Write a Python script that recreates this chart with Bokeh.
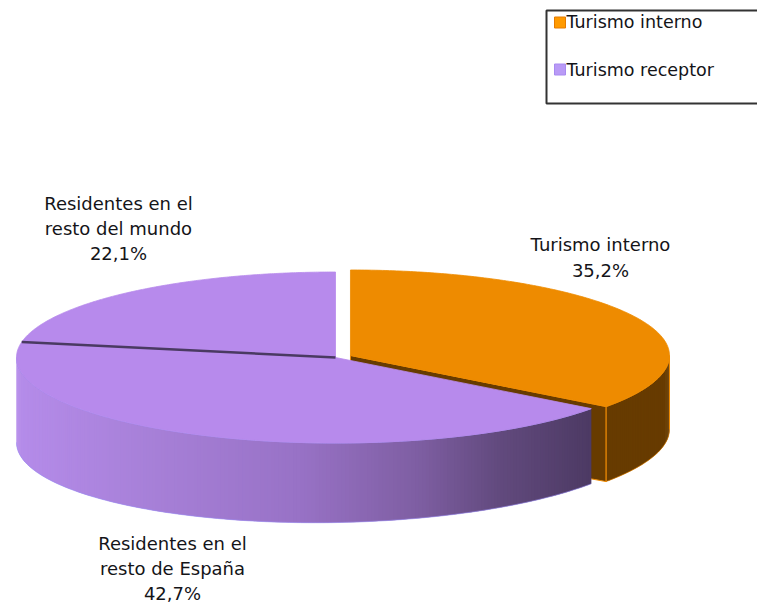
import numpy as np
from bokeh.plotting import figure
from bokeh.models import Range1d, ColumnDataSource
from bokeh.core.properties import value
from bokeh.embed import file_html
from bokeh.resources import INLINE

# ---------------- data ----------------
categories = ["Turismo interno", "Residentes en el\nresto de España", "Residentes en el\nresto del mundo"]
shares = [35.2, 42.7, 22.1]
legend_labels = ["Turismo interno", "Turismo receptor"]

# ---------------- style / layout ----------------
top_colors = ["#EE8B00", "#B78AEC", "#B78AEC"]
side_stops = [
    [(0, "#673B00"), (1000, "#673B00")],
    [(15, "#B58CEA"), (150, "#A780D8"), (300, "#9872C6"), (420, "#7E5EA2"), (500, "#624A7E"), (590, "#4D3A64")],
    [(0, "#B58CEA"), (1000, "#B58CEA")],
]
edge_colors = ["#F08A00", "#9C90F4", "#9C90F4"]
explode = [0.0525, 0.0, 0.0]
legend_colors = ["#FF9A00", "#B99AF6"]
legend_borders = ["#E57A00", "#A88AF0"]
label_pos = [(600, 257), (172, 568), (118, 228)]

CX, CY, A, B = 335.0, 357.0, 319.0, 85.5
FONT = value("DejaVu Sans")


def depth_at(x):
    return 85.0 - 10.0 * (x - 15.0) / 590.0


def hex2rgb(h):
    h = h.lstrip("#")
    return np.array([int(h[i:i + 2], 16) for i in (0, 2, 4)], dtype=float)


def grad(stops, x):
    xs = [s[0] for s in stops]
    cols = np.array([hex2rgb(s[1]) for s in stops])
    r = np.interp(x, xs, cols[:, 0]); g = np.interp(x, xs, cols[:, 1]); b_ = np.interp(x, xs, cols[:, 2])
    return "#%02x%02x%02x" % (int(round(r)), int(round(g)), int(round(b_)))


W, H = 757, 604
p = figure(width=W, height=H, x_range=Range1d(0, W), y_range=Range1d(H, 0),
           output_backend="svg", toolbar_location=None, min_border=0)
p.axis.visible = False
p.grid.visible = False
p.outline_line_color = None
p.background_fill_color = "white"
p.border_fill_color = "white"

# slice angles (degrees, clockwise from 12 o'clock)
tot = sum(shares)
starts, ends = [], []
t0 = 90.0
for v in shares:
    starts.append(t0)
    t0 = t0 - 360.0 * v / tot
    ends.append(t0)

offsets = []
for i in range(len(shares)):
    mid = np.radians((starts[i] + ends[i]) / 2)
    offsets.append((explode[i] * A * np.cos(mid), -explode[i] * B * np.sin(mid)))


def top_pt(i, t_deg):
    t = np.radians(t_deg)
    ox, oy = offsets[i]
    return CX + ox + A * np.cos(t), CY + oy - B * np.sin(t)


# 1) visible cut faces of exploded slices
for i in range(len(shares)):
    if explode[i] <= 0:
        continue
    ox, oy = offsets[i]
    c = (CX + ox, CY + oy)
    for t_face, normal in ((ends[i], ends[i] - 90), (starts[i], starts[i] + 90)):
        if np.sin(np.radians(normal)) < 0:
            r = top_pt(i, t_face)
            xs = [c[0], r[0], r[0], c[0]]
            ys = [c[1], r[1], r[1] + depth_at(r[0]), c[1] + depth_at(c[0])]
            p.patch(xs, ys, fill_color=side_stops[i][0][1], line_color=edge_colors[i], line_width=1)

# 2) visible outer sides (front half)
for i in range(len(shares)):
    lo, hi = ends[i], starts[i]
    segs = []
    for k in (-1, 0, 1):
        a0 = max(lo, -180 + 360 * k); a1 = min(hi, 0 + 360 * k)
        if a1 > a0:
            segs.append((a0, a1))
    for a0, a1 in segs:
        n = max(2, int((a1 - a0) * 1.5))
        ts = np.linspace(a0, a1, n + 1)
        pts = [top_pt(i, t) for t in ts]
        sx, sy, sc = [], [], []
        for j in range(n):
            (x1, y1) = pts[j]
            (x2, y2) = pts[min(j + 2, n)]
            sx.append([x1, x2, x2, x1])
            sy.append([y1, y2, y2 + depth_at(x2), y1 + depth_at(x1)])
            sc.append(grad(side_stops[i], (x1 + x2) / 2))
        src = ColumnDataSource(dict(xs=sx, ys=sy, c=sc))
        p.patches("xs", "ys", source=src, fill_color="c", line_color=None)
        tx = [q[0] for q in pts]; ty = [q[1] for q in pts]
        bx = tx; by = [q[1] + depth_at(q[0]) for q in pts]
        p.line(tx, ty, line_color=edge_colors[i], line_width=1, line_alpha=0.9)
        p.line(bx, by, line_color=edge_colors[i], line_width=1, line_alpha=0.6)
        if explode[i] > 0:
            for xe, ye in (pts[0], pts[-1]):
                p.line([xe, xe], [ye, ye + depth_at(xe)], line_color=edge_colors[i], line_width=1)

# 3) tops
for i in range(len(shares)):
    ts = np.linspace(starts[i], ends[i], 200)
    ox, oy = offsets[i]
    xs = [CX + ox] + [top_pt(i, t)[0] for t in ts]
    ys = [CY + oy] + [top_pt(i, t)[1] for t in ts]
    p.patch(xs, ys, fill_color=top_colors[i], line_color=top_colors[i], line_width=0.8)

# divider between the two purple slices
rx, ry = top_pt(2, starts[2])
p.line([CX, rx], [CY, ry], line_color="#4A3A62", line_width=2.5)

# 4) data labels
lx = [q[0] for q in label_pos]; ly = [q[1] for q in label_pos]
texts = [f"{c}\n{v:.1f}%".replace(".", ",") for c, v in zip(categories, shares)]
p.text(x=lx, y=ly, text=texts, text_font=FONT, text_font_size="18px", text_align="center",
       text_baseline="middle", text_line_height=1.2, text_color="#141418")

# 5) legend box
p.quad(left=[546], right=[820], top=[10], bottom=[103], fill_color="white", line_color="#333333", line_width=2)
leg_y = [22, 69]
p.rect(x=[559.5, 559.5], y=leg_y, width=11, height=11, fill_color=legend_colors, line_color=legend_borders, line_width=1)
p.text(x=[566, 566], y=[21, 69], text=legend_labels, text_font=FONT, text_font_size="17.5px",
       text_align="left", text_baseline="middle", text_color="#141418")

open("out.html", "w").write(file_html(p, INLINE))
